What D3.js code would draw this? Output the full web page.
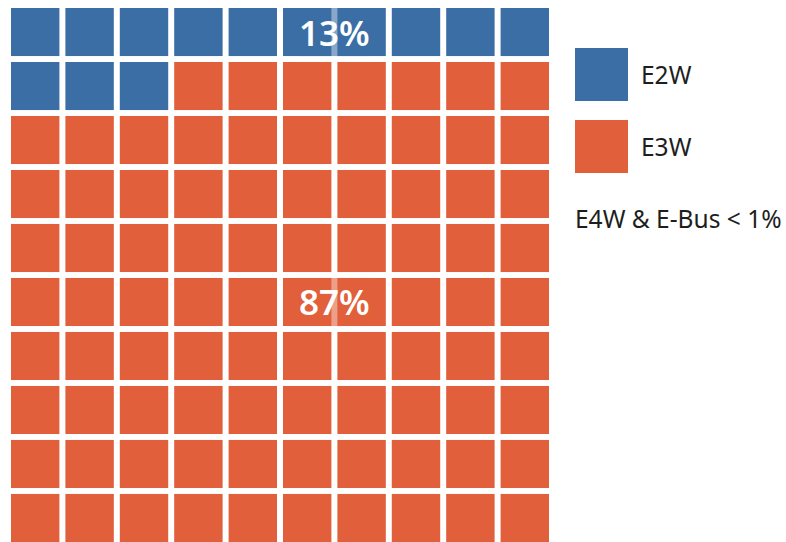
<!DOCTYPE html>
<html>
<head>
<meta charset="utf-8">
<script src="https://cdn.jsdelivr.net/npm/d3@7"></script>
<style>
  body { margin: 0; background: #fff; }
  text { font-family: "Noto Sans", "Open Sans", sans-serif; }
</style>
</head>
<body>
<svg id="chart"></svg>
<script>
const categories = ["E2W", "E3W"];
const shares = [13, 87];
const colors = ["#3a6ea5", "#e15f3a"];
const note = "E4W & E-Bus < 1%";

const W = 786, H = 542;
const svg = d3.select("#chart").attr("width", W).attr("height", H);

// one cell per percent, row-major from top left
const cells = [];
categories.forEach((c, i) => {
  for (let k = 0; k < shares[i]; k++) cells.push({ cat: c, idx: i });
});
cells.forEach((d, i) => { d.row = Math.floor(i / 10); d.col = i % 10; });

const x = d3.scaleBand().domain(d3.range(10)).range([11, 549]).paddingInner(0.11);
const y = d3.scaleBand().domain(d3.range(10)).range([8, 542]).paddingInner(0.11);
const color = d3.scaleOrdinal().domain(categories).range(colors);

const grid = svg.append("g");
grid.selectAll("rect")
  .data(cells)
  .enter()
  .append("rect")
  .attr("x", d => x(d.col))
  .attr("y", d => y(d.row))
  .attr("width", x.bandwidth())
  .attr("height", y.bandwidth())
  .attr("fill", d => color(d.cat));

// percent labels sit on the gap after column 5, on the mean row of each category
const labels = svg.append("g");
const cx = x(6) - (x.step() - x.bandwidth()) / 2;
categories.forEach((c, i) => {
  const mine = cells.filter(d => d.cat === c);
  const row = Math.round(d3.mean(mine, d => d.row));
  const cy = y(row) + y.bandwidth() / 2;
  const g = labels.append("g");
  const bg = g.append("rect").attr("fill", color(c)).attr("opacity", 0.6);
  const t = g.append("text")
    .attr("x", cx)
    .attr("y", cy)
    .attr("text-anchor", "middle")
    .attr("dominant-baseline", "central")
    .attr("fill", "#fff")
    .attr("font-size", 35)
    .attr("font-weight", 600)
    .text(shares[i] + "%");
  const bb = t.node().getBBox();
  bg.attr("x", bb.x).attr("width", bb.width)
    .attr("y", y(row)).attr("height", y.bandwidth());
});

// legend
const legend = svg.append("g").attr("transform", "translate(575,48)");
const items = legend.selectAll("g")
  .data(categories)
  .enter()
  .append("g")
  .attr("transform", (d, i) => `translate(0,${i * 72})`);
items.append("rect")
  .attr("width", 53)
  .attr("height", 53)
  .attr("fill", d => color(d));
items.append("text")
  .attr("x", 66)
  .attr("y", 26)
  .attr("dominant-baseline", "central")
  .attr("font-size", 24.5)
  .attr("fill", "#1e1e1e")
  .text(d => d);
legend.append("text")
  .attr("x", 0)
  .attr("y", 170)
  .attr("dominant-baseline", "central")
  .attr("font-size", 24.5)
  .attr("fill", "#1e1e1e")
  .text(note);
</script>
</body>
</html>
